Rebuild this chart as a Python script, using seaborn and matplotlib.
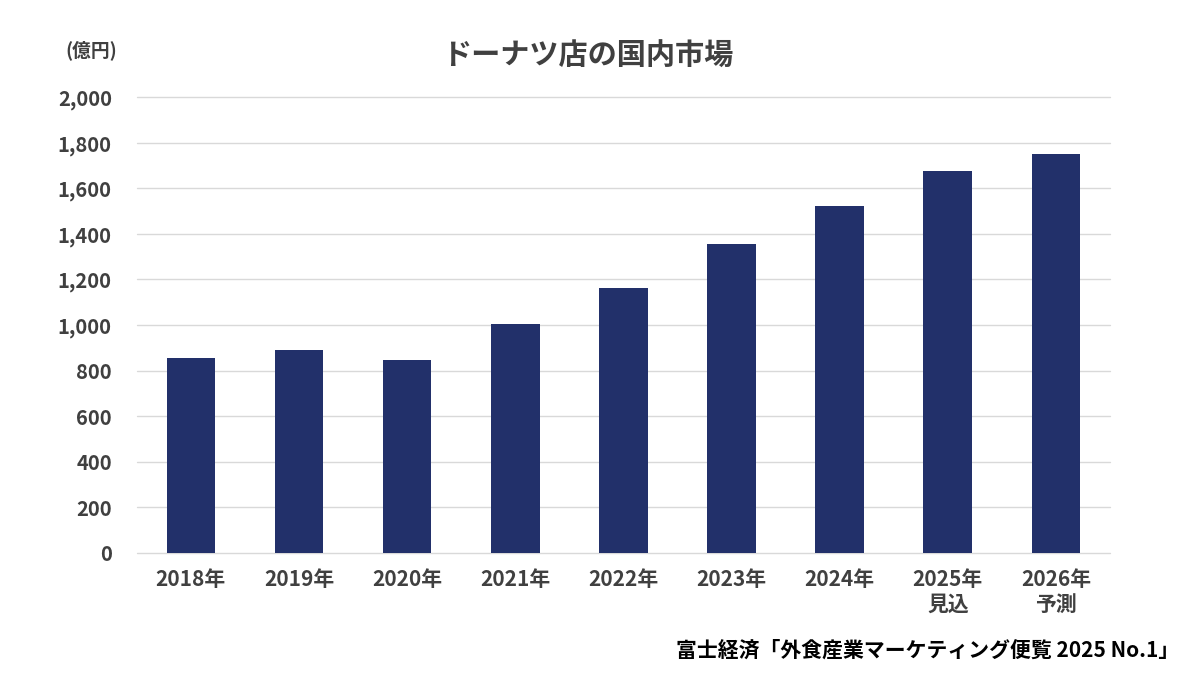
import pandas as pd
import matplotlib.pyplot as plt
import seaborn as sns

# ── データ ──────────────────────────────
years = ['2018年', '2019年', '2020年', '2021年', '2022年',
         '2023年', '2024年', '2025年\n見込', '2026年\n予測']
market = [857, 892, 848, 1006, 1164, 1357, 1524, 1677, 1752]
yticks = [0, 200, 400, 600, 800, 1000, 1200, 1400, 1600, 1800, 2000]

df = pd.DataFrame({'year': years, 'market': market})

sns.set_theme(style='white')
plt.rcParams['font.family'] = ['Noto Sans CJK JP', 'DejaVu Sans']

text_col = '#404040'
bar_col = '#22306A'

fig = plt.figure(figsize=(12, 6.75), dpi=100)
ax = fig.add_axes([0.114, 0.181, 0.811, 0.675])

sns.barplot(data=df, x='year', y='market', color=bar_col, width=0.45,
            saturation=1, linewidth=0, ax=ax, zorder=3)

ax.set_ylim(0, 2000)
ax.set_xlim(-0.5, len(years) - 0.5)
ax.set_yticks(yticks)
ax.set_yticklabels([f'{v:,}' for v in yticks])
ax.yaxis.grid(True, color='#D9D9D9', linewidth=1)
for gl in ax.get_ygridlines():
    gl.set_clip_on(False)
ax.set_axisbelow(True)
for s in ax.spines.values():
    s.set_visible(False)
ax.tick_params(axis='both', length=0, labelcolor=text_col)
ax.tick_params(axis='y', pad=18, labelsize=14.5)
ax.tick_params(axis='x', pad=12, labelsize=15)
for lab in ax.get_xticklabels() + ax.get_yticklabels():
    lab.set_fontweight('bold')
    lab.set_linespacing(1.2)
ax.set_xlabel('')
ax.set_ylabel('')

fig.text(0.49, 0.918, 'ドーナツ店の国内市場', ha='center', va='center',
         fontsize=21, fontweight='bold', color=text_col)
fig.text(0.076, 0.925, '(億円)', ha='center', va='center',
         fontsize=13.5, fontweight='bold', color=text_col)
fig.text(0.983, 0.037, '富士経済「外食産業マーケティング便覧 2025 No.1」',
         ha='right', va='center', fontsize=15, fontweight='bold', color='black')

plt.savefig('out.png', dpi=100)
